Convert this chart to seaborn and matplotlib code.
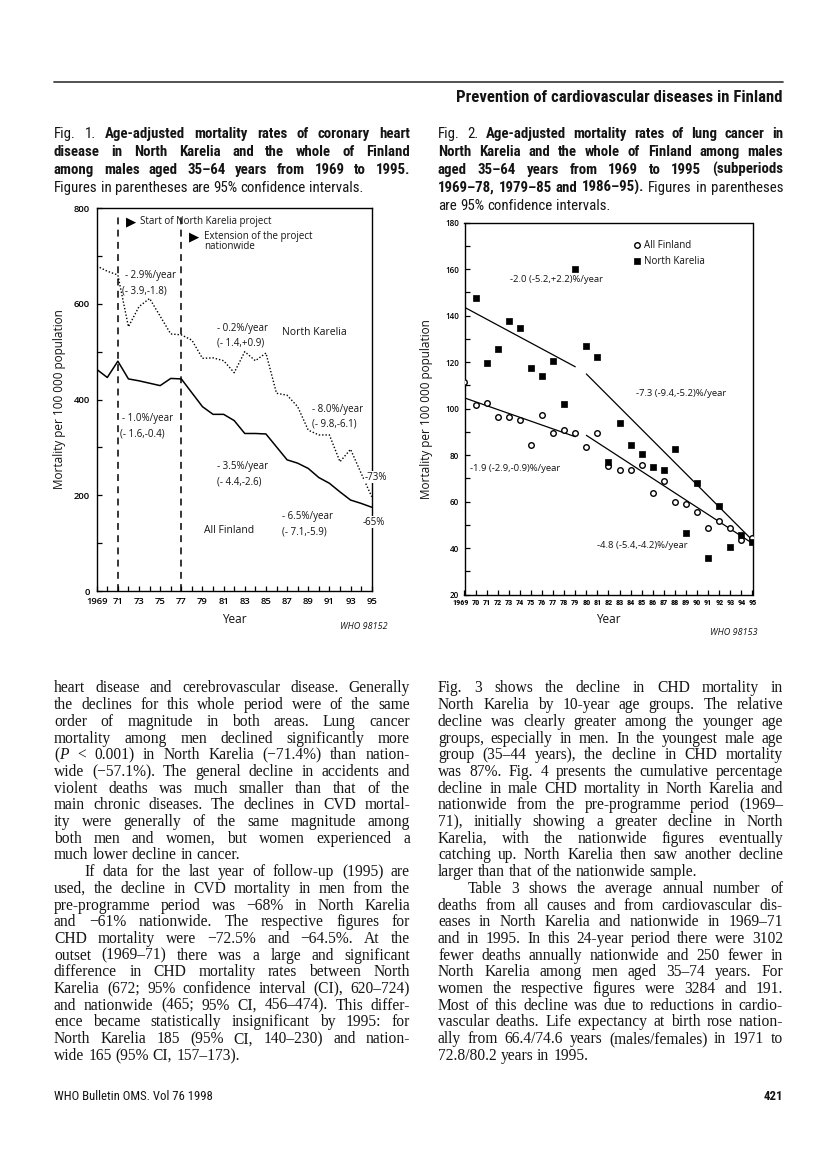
import os
import matplotlib
matplotlib.use("Agg")
import numpy as np
import pandas as pd
import matplotlib.pyplot as plt
import seaborn as sns
from matplotlib import font_manager as fm
from matplotlib.transforms import Affine2D, ScaledTranslation
from matplotlib.lines import Line2D

sns.set_theme(style="ticks")
CHART = ['Open Sans', 'DejaVu Sans']
plt.rcParams['font.family'] = CHART
plt.rcParams['axes.linewidth'] = 1.0
plt.rcParams['axes.edgecolor'] = 'black'
plt.rcParams['text.color'] = '#111111'
plt.rcParams['axes.labelcolor'] = '#111111'
plt.rcParams['xtick.color'] = 'black'
plt.rcParams['ytick.color'] = 'black'

# ---------------- data: Fig. 1 (CHD mortality) ----------------
chd_years = list(range(1969, 1996))
chd_north_karelia = [679, 668, 660, 552, 594, 611, 574, 537, 535, 524, 486, 487, 481,
                     456, 500, 481, 497, 413, 409, 385, 336, 326, 326, 270, 296, 246, 197]
chd_all_finland = [463, 446, 480, 443, 439, 434, 429, 444, 443, 414, 385, 369, 369,
                   356, 329, 329, 328, 301, 274, 267, 256, 237, 225, 207, 190, 183, 175]
event_years = [1971, 1977]
chd_xticks = list(range(1969, 1996, 2))
chd_xticklabels = ['1969'] + [str(y)[2:] for y in range(1971, 1996, 2)]
chd_yticks = [0, 200, 400, 600, 800]

# ---------------- data: Fig. 2 (lung cancer mortality) ----------------
lc_years_af = list(range(1969, 1996))
lc_all_finland = [111.5, 101.4, 102.6, 96.3, 96.3, 95.3, 84.5, 97.1, 89.3, 90.9, 89.4,
                  83.3, 89.3, 75.4, 73.7, 73.4, 75.8, 63.8, 68.7, 59.8, 58.8, 55.5,
                  48.8, 51.8, 48.6, 43.5, 44.2]
lc_years_nk = list(range(1970, 1996))
lc_north_karelia = [147.5, 119.6, 125.8, 137.6, 134.5, 117.6, 113.9, 120.6, 102.1, 160.1,
                    126.9, 122.2, 77.0, 93.6, 84.4, 80.6, 74.8, 73.4, 82.4, 46.5, 67.8,
                    35.5, 58.2, 40.6, 45.8, 42.8]
# fitted trend segments (end points)
trend_nk_early_years = [1969, 1979]
trend_nk_early = [143.6, 118.0]
trend_nk_late_years = [1980, 1995]
trend_nk_late = [114.9, 43.3]
trend_af_early_years = [1969, 1979]
trend_af_early = [104.6, 87.9]
trend_af_late_years = [1980, 1995]
trend_af_late = [88.5, 42.0]
lc_xticks = list(range(1969, 1996))
lc_xticklabels = ['1969'] + [str(y)[2:] for y in range(1970, 1996)]
lc_yticks = list(range(20, 181, 20))

# ---------------- page text ----------------
header_text = "Prevention of cardiovascular diseases in Finland"
caption1 = ["Fig. 1. *Age-adjusted mortality rates of coronary heart*",
            "*disease in North Karelia and the whole of Finland*",
            "*among males aged 35–64 years from 1969 to 1995.*",
            "Figures in parentheses are 95% confidence intervals."]
caption2 = ["Fig. 2. *Age-adjusted mortality rates of lung cancer in*",
            "*North Karelia and the whole of Finland among males*",
            "*aged 35–64 years from 1969 to 1995 (subperiods*",
            "*1969–78, 1979–85 and 1986–95).* Figures in parentheses",
            "are 95% confidence intervals."]
left_lines = [
    "heart disease and cerebrovascular disease. Generally",
    "the declines for this whole period were of the same",
    "order of magnitude in both areas. Lung cancer",
    "mortality among men declined significantly more",
    "(_P_ < 0.001) in North Karelia (−71.4%) than nation-",
    "wide (−57.1%). The general decline in accidents and",
    "violent deaths was much smaller than that of the",
    "main chronic diseases. The declines in CVD mortal-",
    "ity were generally of the same magnitude among",
    "both men and women, but women experienced a",
    "much lower decline in cancer.",
    "If data for the last year of follow-up (1995) are",
    "used, the decline in CVD mortality in men from the",
    "pre-programme period was −68% in North Karelia",
    "and −61% nationwide. The respective figures for",
    "CHD mortality were −72.5% and −64.5%. At the",
    "outset (1969–71) there was a large and significant",
    "difference in CHD mortality rates between North",
    "Karelia (672; 95% confidence interval (CI), 620–724)",
    "and nationwide (465; 95% CI, 456–474). This differ-",
    "ence became statistically insignificant by 1995: for",
    "North Karelia 185 (95% CI, 140–230) and nation-",
    "wide 165 (95% CI, 157–173).",
]
left_par_end = {10, 22}
left_indent = {11}
right_lines = [
    "Fig. 3 shows the decline in CHD mortality in",
    "North Karelia by 10-year age groups. The relative",
    "decline was clearly greater among the younger age",
    "groups, especially in men. In the youngest male age",
    "group (35–44 years), the decline in CHD mortality",
    "was 87%. Fig. 4 presents the cumulative percentage",
    "decline in male CHD mortality in North Karelia and",
    "nationwide from the pre-programme period (1969–",
    "71), initially showing a greater decline in North",
    "Karelia, with the nationwide figures eventually",
    "catching up. North Karelia then saw another decline",
    "larger than that of the nationwide sample.",
    "Table 3 shows the average annual number of",
    "deaths from all causes and from cardiovascular dis-",
    "eases in North Karelia and nationwide in 1969–71",
    "and in 1995. In this 24-year period there were 3102",
    "fewer deaths annually nationwide and 250 fewer in",
    "North Karelia among men aged 35–74 years. For",
    "women the respective figures were 3284 and 191.",
    "Most of this decline was due to reductions in cardio-",
    "vascular deaths. Life expectancy at birth rose nation-",
    "ally from 66.4/74.6 years (males/females) in 1971 to",
    "72.8/80.2 years in 1995.",
]
right_par_end = {11, 22}
right_indent = {12}
footer_left = "WHO Bulletin OMS. Vol 76 1998"
footer_right = "421"


def has_font(name):
    try:
        fm.findfont(fm.FontProperties(family=name), fallback_to_default=False)
        return True
    except Exception:
        return False


def cond_path(fam, weight):
    try:
        p = fm.findfont(fm.FontProperties(family=fam, stretch='condensed', weight=weight),
                        fallback_to_default=False)
    except Exception:
        return None
    b = os.path.basename(p).lower()
    return p if ('cond' in b or 'narrow' in b) else None


CAP, CAP_STRETCH = 'Liberation Sans', 'normal'
for _name in ['Liberation Sans Narrow', 'Roboto Condensed', 'Open Sans Condensed',
              'Noto Sans Condensed']:
    if has_font(_name):
        CAP = _name
        break
else:
    for _fam in ['Noto Sans', 'Roboto', 'Open Sans', 'Liberation Sans', 'DejaVu Sans']:
        if cond_path(_fam, 'bold') and cond_path(_fam, 'normal'):
            CAP, CAP_STRETCH = _fam, 'condensed'
            break

SERIF = 'Liberation Serif'
INK = '#141414'
STRETCH = {CAP: CAP_STRETCH}

W, H = 816, 1151
fig = plt.figure(figsize=(W / 100, H / 100), dpi=100)
fig.patch.set_facecolor('white')
PX = Affine2D().scale(1 / W, -1 / H).translate(0, 1) + fig.transFigure
renderer = fig.canvas.get_renderer()

STY = {'n': dict(fontweight='normal', fontstyle='normal'),
       'b': dict(fontweight='bold', fontstyle='normal'),
       'i': dict(fontweight='normal', fontstyle='italic')}
_cache = {}


def tw(s, fam, size, st='n'):
    key = (s, fam, size, st)
    if key not in _cache:
        t = fig.text(0, 0, s, fontsize=size, family=fam,
                     fontstretch=STRETCH.get(fam, 'normal'), **STY[st])
        _cache[key] = t.get_window_extent(renderer).width
        t.remove()
    return _cache[key]


def parse(line):
    runs, bold, ital, buf = [], False, False, ''
    for ch in line:
        if ch in '*_':
            if buf:
                runs.append((buf, 'b' if bold else ('i' if ital else 'n')))
                buf = ''
            if ch == '*':
                bold = not bold
            else:
                ital = not ital
        else:
            buf += ch
    if buf:
        runs.append((buf, 'b' if bold else ('i' if ital else 'n')))
    return runs


def tokenize(runs):
    words, cur = [], []
    for text, st in runs:
        parts = text.split(' ')
        for i, p in enumerate(parts):
            if i > 0 and cur:
                words.append(cur)
                cur = []
            if p:
                cur.append((p, st))
    if cur:
        words.append(cur)
    return words


def natural_width(line, fam, size):
    words = tokenize(parse(line))
    sp = tw('n n', fam, size) - tw('nn', fam, size)
    return sum(tw(t, fam, size, st) for w in words for t, st in w) + sp * (len(words) - 1)


def draw_line(line, x0, x1, yb, fam, size, justify=True, indent=0):
    words = tokenize(parse(line))
    ww = [sum(tw(t, fam, size, st) for t, st in w) for w in words]
    sp = tw('n n', fam, size) - tw('nn', fam, size)
    x = x0 + indent
    gap = (x1 - x - sum(ww)) / (len(words) - 1) if (justify and len(words) > 1) else sp
    for w, wd in zip(words, ww):
        xx = x
        for t, st in w:
            fig.text(xx, yb, t, transform=PX, fontsize=size, family=fam, va='baseline',
                     ha='left', color=INK, fontstretch=STRETCH.get(fam, 'normal'),
                     **STY[st])
            xx += tw(t, fam, size, st)
        x += wd + gap


def fit_size(lines, fam, base, width, grow_to=None):
    mx = max(natural_width(l, fam, base) for l in lines)
    size = base * width / mx
    if grow_to is None:
        return min(base, size)
    return min(grow_to, size)


# ---------------- header / footer ----------------
fig.add_artist(Line2D([54, 783], [82, 82], transform=PX, color='#444444', lw=1.3))
hs = 10.5 * 328 / tw(header_text, CAP, 10.5, 'b')
fig.text(783, 102, header_text, transform=PX, fontsize=hs, family=CAP, fontweight='bold',
         fontstretch=CAP_STRETCH, ha='right', va='baseline', color=INK)
fs = 8.0 * 159 / tw(footer_left, CAP, 8.0)
fig.text(54, 1100, footer_left, transform=PX, fontsize=fs, family=CAP, ha='left',
         fontstretch=CAP_STRETCH, va='baseline', color=INK)
fig.text(783, 1100, footer_right, transform=PX, fontsize=fs, family=CAP, fontweight='bold',
         fontstretch=CAP_STRETCH, ha='right', va='baseline', color=INK)

# ---------------- captions ----------------
csize = min(fit_size(caption1[:3], CAP, 10.3, 350, grow_to=11.3),
            fit_size(caption2[:4], CAP, 10.3, 339, grow_to=11.3))
for i, l in enumerate(caption1):
    draw_line(l, 54, 410, 138 + i * 18, CAP, csize, justify=(i < 3))
for i, l in enumerate(caption2):
    draw_line(l, 438, 783, 138 + i * 18, CAP, csize, justify=(i < 4))

# ---------------- body text ----------------
just_left = [l for i, l in enumerate(left_lines) if i not in left_par_end]
just_right = [l for i, l in enumerate(right_lines) if i not in right_par_end]
bsize = min(fit_size(just_left, SERIF, 11.2, 354), fit_size(just_right, SERIF, 11.2, 343))
for i, l in enumerate(left_lines):
    draw_line(l, 54, 410, 692.5 + i * 16.7, SERIF, bsize, justify=(i not in left_par_end),
              indent=30 if i in left_indent else 0)
for i, l in enumerate(right_lines):
    draw_line(l, 438, 783, 692.5 + i * 16.7, SERIF, bsize, justify=(i not in right_par_end),
              indent=30 if i in right_indent else 0)

# ================= Fig. 1 =================
ax1 = fig.add_axes([96.7 / W, 1 - 591 / H, 275 / W, 383 / H])
sns.lineplot(x=chd_years, y=chd_north_karelia, ax=ax1, color='black', lw=1.0,
             linestyle=(0, (1, 1.4)))
sns.lineplot(x=chd_years, y=chd_all_finland, ax=ax1, color='black', lw=1.1)
ax1.vlines(event_years, 0, 785, colors='black', lw=1.1, linestyles=(0, (4.5, 3.5)))
ax1.set_xlim(1969, 1995)
ax1.set_ylim(0, 800)
ax1.set_xticks(chd_xticks)
ax1.set_xticklabels(chd_xticklabels)
ax1.set_xticks(chd_years, minor=True)
ax1.set_yticks(chd_yticks)
ax1.set_yticks(range(0, 801, 100), minor=True)
ax1.tick_params(axis='both', which='both', direction='in', length=3.5, width=0.9,
                labelsize=6.8)
ax1.tick_params(axis='x', pad=4)
ax1.tick_params(axis='y', pad=5)
for lab in ax1.get_xticklabels() + ax1.get_yticklabels():
    lab.set_fontweight('semibold')
for s in ax1.spines.values():
    s.set_visible(True)
    s.set_linewidth(1.0)
ax1.set_xlabel("Year", fontsize=8.5)
ax1.set_ylabel("Mortality per 100 000 population", fontsize=8.5)
ax1.xaxis.set_label_coords(0.5, -0.058)
ax1.yaxis.set_label_coords(-0.112, 0.5)

ann = dict(fontsize=7, va='center', ha='left', color=INK)
tri = dict(fontsize=9.5, va='center', ha='center', color='black', family='DejaVu Sans')
ax1.text(1972.25, 771, "▶", **tri)
ax1.text(1973.1, 771, "Start of North Karelia project", **ann)
ax1.text(1978.2, 740, "▶", **tri)
ax1.text(1979.15, 740, "Extension of the project", **ann)
ax1.text(1979.15, 719, "nationwide", **ann)
ax1.text(1971.7, 660, "- 2.9%/year", **ann)
ax1.text(1971.4, 627, "(- 3.9,-1.8)", **ann)
ax1.text(1980.4, 549, "- 0.2%/year", **ann)
ax1.text(1980.4, 518, "(- 1.4,+0.9)", **ann)
ax1.text(1986.5, 539, "North Karelia", fontsize=7.5, va='center', ha='left', color=INK)
ax1.text(1989.35, 380, "- 8.0%/year", **ann)
ax1.text(1989.35, 349, "(- 9.8,-6.1)", **ann)
ax1.text(1971.4, 361, "- 1.0%/year", **ann)
ax1.text(1971.2, 328, "(- 1.6,-0.4)", **ann)
ax1.text(1980.4, 261, "- 3.5%/year", **ann)
ax1.text(1980.4, 228, "(- 4.4,-2.6)", **ann)
ax1.text(1979.15, 127, "All Finland", fontsize=7.5, va='center', ha='left', color=INK)
ax1.text(1986.5, 155, "- 6.5%/year", **ann)
ax1.text(1986.5, 123, "(- 7.1,-5.9)", **ann)
ax1.text(1994.3, 238, "-73%", bbox=dict(fc='white', ec='none', pad=0.3),
         clip_on=False, zorder=5, **ann)
ax1.text(1994.1, 144, "-65%", bbox=dict(fc='white', ec='none', pad=0.3),
         clip_on=False, zorder=5, **ann)
fig.text(388, 627, "WHO 98152", transform=PX, fontsize=6.5, fontstyle='italic',
         ha='right', va='center', color=INK)

# ================= Fig. 2 =================
ax2 = fig.add_axes([464.5 / W, 1 - 594.5 / H, 288 / W, 371.8 / H])
sns.scatterplot(x=lc_years_af, y=lc_all_finland, ax=ax2, marker='o', s=16,
                color='white', edgecolor='black', linewidth=1.0, label='All Finland',
                zorder=3)
sns.scatterplot(x=lc_years_nk, y=lc_north_karelia, ax=ax2, marker='s', s=22,
                color='black', edgecolor='black', linewidth=0.5, label='North Karelia',
                zorder=4)
for xs, ys in [(trend_nk_early_years, trend_nk_early), (trend_nk_late_years, trend_nk_late),
               (trend_af_early_years, trend_af_early), (trend_af_late_years, trend_af_late)]:
    sns.lineplot(x=xs, y=ys, ax=ax2, color='black', lw=0.9, zorder=2)
ax2.set_xlim(1969, 1995)
ax2.set_ylim(20, 180)
ax2.set_xticks(lc_xticks)
ax2.set_xticklabels(lc_xticklabels)
ax2.set_yticks(lc_yticks)
ax2.set_yticks(range(20, 181, 10), minor=True)
ax2.tick_params(axis='both', which='both', direction='in', length=3.5, width=0.9)
ax2.tick_params(axis='x', pad=3, labelsize=5.9)
ax2.tick_params(axis='y', pad=4, labelsize=5.8)
for lab in ax2.get_xticklabels():
    lab.set_family(CAP)
    lab.set_fontstretch(CAP_STRETCH)
    lab.set_fontweight('bold')
for lab in ax2.get_yticklabels():
    lab.set_fontweight('semibold')
_first = ax2.get_xticklabels()[0]
_first.set_transform(_first.get_transform() + ScaledTranslation(-3.5 / 100, 0, fig.dpi_scale_trans))
for s in ax2.spines.values():
    s.set_visible(True)
    s.set_linewidth(1.0)
ax2.set_xlabel("Year", fontsize=8.5)
ax2.set_ylabel("Mortality per 100 000 population", fontsize=8.5)
ax2.xaxis.set_label_coords(0.5, -0.05)
ax2.yaxis.set_label_coords(-0.109, 0.5)
ann2 = dict(fontsize=6.8, va='center', ha='left', color=INK)
ax2.text(1973.07, 155.4, "-2.0 (-5.2,+2.2)%/year", **ann2)
ax2.text(1984.46, 106.4, "-7.3 (-9.4,-5.2)%/year", **ann2)
ax2.text(1969.54, 74.2, "-1.9 (-2.9,-0.9)%/year", **ann2)
ax2.text(1981.0, 41.2, "-4.8 (-5.4,-4.2)%/year", **ann2)
ax2.legend(loc='upper left', bbox_to_anchor=(0.565, 0.965), frameon=False, fontsize=7,
           handletextpad=0.1, labelspacing=0.55, borderaxespad=0, handlelength=1.2,
           markerscale=1.0)
fig.text(758, 633, "WHO 98153", transform=PX, fontsize=6.5, fontstyle='italic',
         ha='right', va='center', color=INK)

fig.savefig("out.png", dpi=100, facecolor='white')
